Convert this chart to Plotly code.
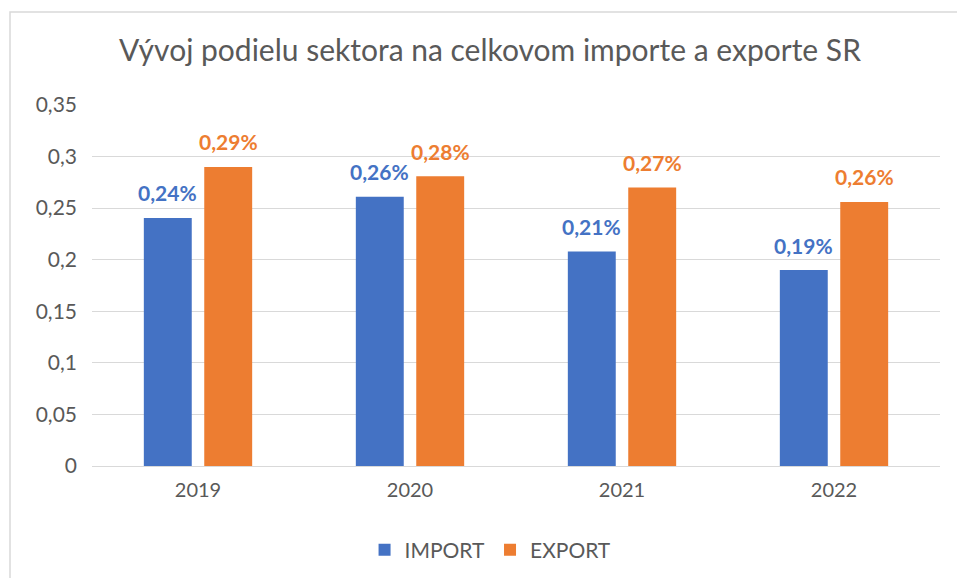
import plotly.graph_objects as go

years = ["2019", "2020", "2021", "2022"]
import_vals = [0.2405, 0.261, 0.208, 0.19]
export_vals = [0.29, 0.281, 0.27, 0.256]
ytick_vals = [0, 0.05, 0.1, 0.15, 0.2, 0.25, 0.3, 0.35]
ytick_text = ["0", "0,05", "0,1", "0,15", "0,2", "0,25", "0,3", "0,35"]
series_names = ["IMPORT", "EXPORT"]
colors = ["#4472C4", "#ED7D31"]
title = "Vývoj podielu sektora na celkovom importe a exporte SR"

FONT = "Lato"
GRAY = "#595959"

def fmt(v):
    return f"{v:.2f}".replace(".", ",") + "%"

fig = go.Figure()
for name, vals, col in zip(series_names, [import_vals, export_vals], colors):
    fig.add_trace(go.Bar(x=years, y=vals, name=name, marker_color=col,
                         marker_line_width=0, hoverinfo="skip"))

annotations = []
for vals, col, sh in zip([import_vals, export_vals], colors, [-30.25, 30.25]):
    for i, v in enumerate(vals):
        annotations.append(dict(x=i, y=v, xref="x", yref="y", text=fmt(v),
                                showarrow=False, xshift=sh, yshift=25,
                                yanchor="middle",
                                font=dict(family=FONT, size=21, color=col, weight="bold")))

fig.update_layout(
    width=957, height=578,
    margin=dict(l=92, r=17, t=105, b=112, autoexpand=False),
    paper_bgcolor="white", plot_bgcolor="white",
    barmode="group", bargap=0.43, bargroupgap=0.207,
    title=dict(text=title, x=0.512, xanchor="center", y=1 - 50 / 578, yanchor="middle",
               font=dict(family=FONT, size=30, color=GRAY)),
    font=dict(family=FONT, color=GRAY),
    legend=dict(orientation="h", x=0.47, xanchor="center",
                yref="container", y=1 - 550 / 578, yanchor="middle",
                font=dict(family=FONT, size=21, color=GRAY), itemwidth=30,
                traceorder="normal"),
    annotations=annotations,
    shapes=[dict(type="rect", xref="paper", yref="paper",
                 x0=(10 - 92) / 848, x1=1.2, y0=-0.5, y1=(466 - 12) / 361,
                 line=dict(color="#D9D9D9", width=1.5), layer="below")],
)
fig.update_yaxes(range=[0, 0.35], tickvals=ytick_vals, ticktext=ytick_text,
                 showgrid=True, gridcolor="#D9D9D9", gridwidth=1,
                 zeroline=True, zerolinecolor="#D9D9D9", zerolinewidth=1,
                 showline=False, ticks="", ticklabelstandoff=14,
                 tickfont=dict(family=FONT, size=21, color=GRAY))
fig.update_xaxes(type="category", range=[-0.5, 3.5], showline=False, ticks="",
                 ticklabelstandoff=10,
                 tickfont=dict(family=FONT, size=20, color=GRAY))

fig.write_html("out.html", config={"displayModeBar": False},
               post_script="document.body.style.margin='0';")
